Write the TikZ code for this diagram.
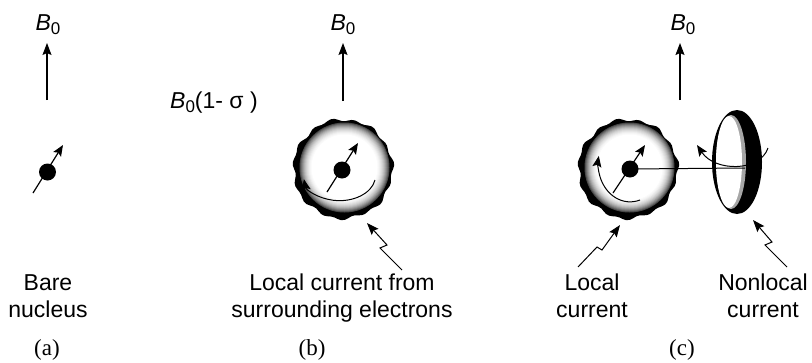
\documentclass[tikz,border=0pt]{standalone}
\usepackage{fontspec}
\setmainfont{Liberation Serif}
\setsansfont{Liberation Sans}
\usetikzlibrary{arrows.meta,shapes.geometric}

\newcommand\fieldsym{\textit{B}\raisebox{-4pt}{\fontsize{17}{17}\selectfont 0}}
% electron shell: bumpy dark rim fading into a white core
\newcommand\shellat[1]{%
  \begin{scope}[shift={#1}]
    \fill[black] plot[smooth cycle,samples=90,domain=0:356]
      (\x:{49.5+1.2*sin(15*\x)+0.8*sin(7*\x+50)});
    \foreach \rad/\shadeval in {45/72,44/60,43/50,42/41,41/33,40/26,39/20,38/15,37/11,36/7,35/4,34/2}
      {\fill[black!\shadeval] (1.5,1.5) circle (\rad);}
    \fill[white] (1.5,1.5) circle (33);
  \end{scope}}

\begin{document}
\begin{tikzpicture}[x=1pt,y=1pt,
  lbl/.style={font=\sffamily\fontsize{23}{27}\selectfont, inner sep=0pt, align=center},
  tag/.style={font=\rmfamily\fontsize{23}{27}\selectfont, inner sep=0pt},
  field/.style={line width=1.2pt, -{Stealth[length=12pt,width=9pt,inset=2pt]}},
  spin/.style={line width=1.2pt, -{Stealth[length=11pt,width=9pt,inset=2pt]}},
  swirl/.style={line width=1pt, -{Stealth[length=11pt,width=9pt,inset=2pt]}},
  bolt/.style={line width=1pt, line join=miter, -{Stealth[length=12pt,width=9pt,inset=2pt]}},
  nucleus/.style={circle, fill=black, inner sep=0pt, minimum size=17pt}]
\useasboundingbox (0,0) rectangle (812,-362);

% ---------- (a) bare nucleus ----------
\node[lbl, anchor=base] (a-B) at (48,-30) {\fieldsym};
\coordinate (a-fieldbase) at (47,-100);
\coordinate (a-fieldtip) at (47,-43);
\draw[field] (a-fieldbase) -- (a-fieldtip);
\node[nucleus] (a-nuc) at (47.5,-172) {};
\coordinate (a-spintail) at (33,-193);
\coordinate (a-spintip) at (63,-145);
\draw[spin] (a-spintail) -- (a-spintip);
\node[lbl, anchor=north] (a-text) at (48,-274) {Bare\\nucleus};
\node[tag, anchor=base] (a-tag) at (47,-355) {(a)};

% ---------- (b) shielded nucleus ----------
\node[lbl, anchor=base] (b-B) at (343,-30) {\fieldsym};
\coordinate (b-fieldbase) at (343,-101);
\coordinate (b-fieldtip) at (343,-43);
\draw[field] (b-fieldbase) -- (b-fieldtip);
\node[lbl, anchor=base west] (b-local) at (170,-108) {\fieldsym(1- σ )};
\shellat{(343,-169)}
\node[nucleus] (b-nuc) at (342,-170) {};
\coordinate (b-spintail) at (327,-192);
\coordinate (b-spintip) at (358,-143);
\draw[spin] (b-spintail) -- (b-spintip);
\draw[swirl] (375,-180) arc[start angle=-10, end angle=-172, x radius=36, y radius=25];
\node[lbl, anchor=north] (b-text) at (342,-274) {Local current from\\surrounding electrons};
\coordinate (b-bolttail) at (402,-270);
\coordinate (b-bolttip) at (367,-223);
\draw[bolt] (b-bolttail) -- (380,-248) -- (387,-245) -- (b-bolttip);
\node[tag, anchor=base] (b-tag) at (312,-355) {(b)};

% ---------- (c) local and nonlocal currents ----------
\node[lbl, anchor=base] (c-B) at (683,-30) {\fieldsym};
\coordinate (c-fieldbase) at (680,-100);
\coordinate (c-fieldtip) at (680,-43);
\draw[field] (c-fieldbase) -- (c-fieldtip);
\shellat{(628,-169)}
% current loop seen edge-on: dark rim, white face shadowed at the right
\fill[black] (737,-162) ellipse [x radius=25, y radius=52];
\fill[black!35] (731,-162) ellipse [x radius=15, y radius=47];
\fill[white] (729,-162) ellipse [x radius=13, y radius=46];
\node[nucleus] (c-nuc) at (630,-169) {};
\coordinate (c-axisend) at (745,-168);
\draw[line width=1pt] (c-nuc.center) -- (c-axisend);
\coordinate (c-spintail) at (613,-193);
\coordinate (c-spintip) at (645,-145);
\draw[spin] (c-spintail) -- (c-spintip);
\draw[swirl] (640,-200) arc[start angle=-72, end angle=-192, x radius=32, y radius=38];
\coordinate (c-swirlstart) at (768,-148);
\coordinate (c-swirlend) at (697,-145);
\draw[swirl] (c-swirlstart) .. controls (760,-172) and (715,-172) .. (c-swirlend);
\node[lbl, anchor=north] (c-localtext) at (592,-274) {Local\\current};
\node[lbl, anchor=north] (c-nonlocaltext) at (763,-274) {Nonlocal\\current};
\coordinate (c-bolt1tail) at (578,-267);
\coordinate (c-bolt1tip) at (620,-225);
\draw[bolt] (c-bolt1tail) -- (597,-247) -- (602,-250) -- (c-bolt1tip);
\coordinate (c-bolt2tail) at (787,-267);
\coordinate (c-bolt2tip) at (753,-220);
\draw[bolt] (c-bolt2tail) -- (765,-245) -- (772,-242) -- (c-bolt2tip);
\node[tag, anchor=base] (c-tag) at (682,-355) {(c)};
\end{tikzpicture}
\end{document}
